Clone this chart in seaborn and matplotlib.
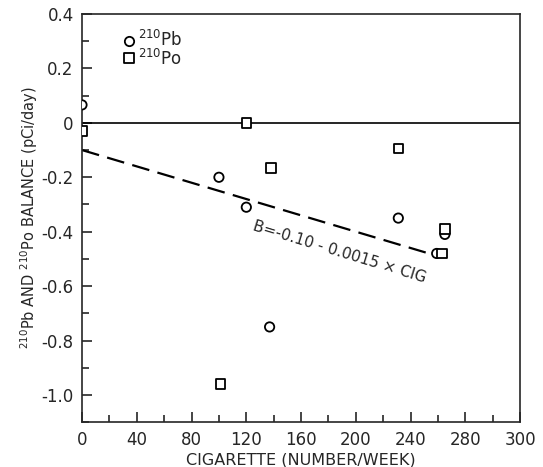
import matplotlib
matplotlib.use("Agg")
import matplotlib.pyplot as plt
import seaborn as sns
import numpy as np
import pandas as pd

# 210Pb balance (circles)
pb_cig = [0, 100, 120, 137, 231, 265, 259]
pb_bal = [0.066, -0.20, -0.31, -0.75, -0.35, -0.41, -0.48]
# 210Po balance (squares)
po_cig = [0, 120, 138, 101, 231, 265, 263]
po_bal = [-0.03, 0.0, -0.166, -0.96, -0.095, -0.39, -0.48]

# regression B = a + b * CIG
fit_a = -0.10
fit_b = -0.0015
fit_range = [0, 262]

xtick_pos = [0, 40, 80, 120, 160, 200, 240, 280, 320]
xtick_lab = ["0", "40", "80", "120", "160", "200", "240", "280", "300"]
ytick_pos = [0.4, 0.2, 0, -0.2, -0.4, -0.6, -0.8, -1.0]
ytick_lab = ["0.4", "0.2", "0", "-0.2", "-0.4", "-0.6", "-0.8", "-1.0"]

sns.set_style("ticks")
plt.rcParams['font.family'] = ['DejaVu Sans']

df = pd.DataFrame({
    "cig": pb_cig + po_cig,
    "bal": pb_bal + po_bal,
    "iso": ["Pb"] * len(pb_cig) + ["Po"] * len(po_cig),
})

fig = plt.figure(figsize=(5.43, 4.67), dpi=100)
ax = fig.add_axes([0.151, 0.096, 0.807, 0.874])

sns.scatterplot(data=df, x="cig", y="bal", style="iso", markers={"Pb": "o", "Po": "s"},
                s=45, facecolor="white", edgecolor="black", linewidth=1.3,
                legend=False, ax=ax, zorder=3)

fx = np.array(fit_range)
sns.lineplot(x=fx, y=fit_a + fit_b * fx, ax=ax, color="black", linewidth=1.6,
             dashes=False, linestyle=(0, (8, 3.8)))
ax.axhline(0, color="black", linewidth=1.2)

ax.text(127, -0.35, "B=-0.10 - 0.0015 × CIG", rotation=-17, fontsize=11,
        ha="left", va="top", rotation_mode="anchor")

# legend drawn by hand
ax.scatter([34], [0.3], marker="o", s=45, facecolor="white", edgecolor="black", linewidth=1.3)
ax.scatter([34], [0.24], marker="s", s=45, facecolor="white", edgecolor="black", linewidth=1.3)
ax.text(41, 0.305, r"$^{210}$Pb", fontsize=12, va="center")
ax.text(41, 0.235, r"$^{210}$Po", fontsize=12, va="center")

ax.set_xlim(0, 320)
ax.set_ylim(-1.1, 0.4)
ax.set_xticks(xtick_pos)
ax.set_xticklabels(xtick_lab)
ax.set_xticks(np.arange(20, 320, 40), minor=True)
ax.set_yticks(ytick_pos)
ax.set_yticklabels(ytick_lab)
ax.set_yticks(np.arange(-1.1, 0.4, 0.2), minor=True)
ax.tick_params(which="both", direction="in", labelsize=12, width=1.2)
ax.tick_params(which="major", length=7, pad=6)
ax.tick_params(which="minor", length=5)
for sp in ax.spines.values():
    sp.set_linewidth(1.2)

ax.set_xlabel("CIGARETTE (NUMBER/WEEK)", fontsize=11.5, labelpad=3)
ax.set_ylabel(r"$^{210}$Pb AND $^{210}$Po BALANCE (pCi/day)", fontsize=10.5, labelpad=1)

fig.savefig("out.png", dpi=100)
